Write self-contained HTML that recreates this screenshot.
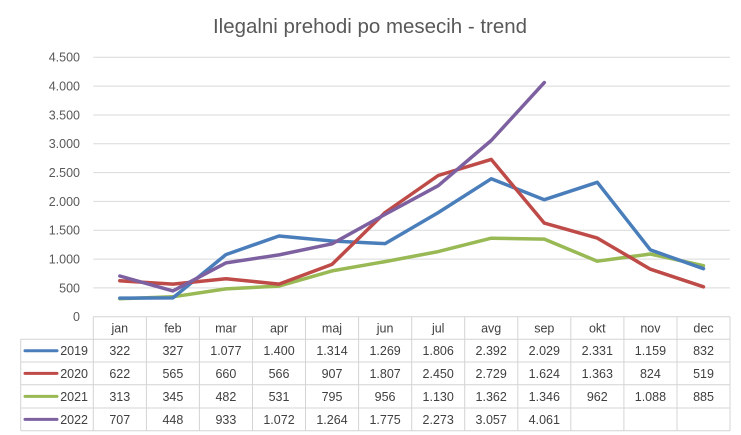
<!DOCTYPE html>
<html><head><meta charset="utf-8"><style>
html,body{margin:0;padding:0;background:#fff;}
svg{display:block;}
text{font-family:"Liberation Sans",Arial,sans-serif;}
</style></head><body>
<svg width="741" height="435" viewBox="0 0 741 435" xmlns="http://www.w3.org/2000/svg">
<rect width="741" height="435" fill="#fff"/>
<text x="370" y="33" font-size="20.5" fill="#595959" text-anchor="middle" textLength="314" lengthAdjust="spacingAndGlyphs">Ilegalni prehodi po mesecih - trend</text>
<g stroke="#d9d9d9" stroke-width="1">
<line x1="93.3" y1="287.9" x2="730" y2="287.9"/>
<line x1="93.3" y1="259.1" x2="730" y2="259.1"/>
<line x1="93.3" y1="230.2" x2="730" y2="230.2"/>
<line x1="93.3" y1="201.4" x2="730" y2="201.4"/>
<line x1="93.3" y1="172.6" x2="730" y2="172.6"/>
<line x1="93.3" y1="143.8" x2="730" y2="143.8"/>
<line x1="93.3" y1="115.0" x2="730" y2="115.0"/>
<line x1="93.3" y1="86.1" x2="730" y2="86.1"/>
<line x1="93.3" y1="57.3" x2="730" y2="57.3"/>
</g>
<g font-size="12.5" fill="#595959" text-anchor="end">
<text x="80" y="321">0</text>
<text x="80" y="292.3">500</text>
<text x="80" y="263.5">1.000</text>
<text x="80" y="234.6">1.500</text>
<text x="80" y="205.8">2.000</text>
<text x="80" y="177">2.500</text>
<text x="80" y="148.2">3.000</text>
<text x="80" y="119.4">3.500</text>
<text x="80" y="90.5">4.000</text>
<text x="80" y="61.7">4.500</text>
</g>
<!-- table -->
<g stroke="#d4d4d4" stroke-width="1" fill="none">
<line x1="93.3" y1="316.7" x2="730" y2="316.7"/>
<line x1="20.7" y1="339.3" x2="730" y2="339.3"/>
<line x1="20.7" y1="362" x2="730" y2="362"/>
<line x1="20.7" y1="384.7" x2="730" y2="384.7"/>
<line x1="20.7" y1="408" x2="730" y2="408"/>
<line x1="20.7" y1="430.7" x2="730" y2="430.7"/>
<line x1="20.7" y1="339.3" x2="20.7" y2="430.7"/>
<line x1="93.3" y1="316.7" x2="93.3" y2="430.7"/>
<line x1="146.4" y1="316.7" x2="146.4" y2="430.7"/>
<line x1="199.4" y1="316.7" x2="199.4" y2="430.7"/>
<line x1="252.5" y1="316.7" x2="252.5" y2="430.7"/>
<line x1="305.5" y1="316.7" x2="305.5" y2="430.7"/>
<line x1="358.6" y1="316.7" x2="358.6" y2="430.7"/>
<line x1="411.7" y1="316.7" x2="411.7" y2="430.7"/>
<line x1="464.7" y1="316.7" x2="464.7" y2="430.7"/>
<line x1="517.8" y1="316.7" x2="517.8" y2="430.7"/>
<line x1="570.8" y1="316.7" x2="570.8" y2="430.7"/>
<line x1="623.9" y1="316.7" x2="623.9" y2="430.7"/>
<line x1="677" y1="316.7" x2="677" y2="430.7"/>
<line x1="730" y1="316.7" x2="730" y2="430.7"/>
</g>
<g font-size="12.5" fill="#404040" text-anchor="middle">
<text x="119.8" y="332.3">jan</text><text x="172.9" y="332.3">feb</text><text x="225.9" y="332.3">mar</text><text x="279" y="332.3">apr</text><text x="332" y="332.3">maj</text><text x="385.1" y="332.3">jun</text><text x="438.2" y="332.3">jul</text><text x="491.2" y="332.3">avg</text><text x="544.3" y="332.3">sep</text><text x="597.3" y="332.3">okt</text><text x="650.4" y="332.3">nov</text><text x="703.5" y="332.3">dec</text>

<text x="119.8" y="355.2">322</text><text x="172.9" y="355.2">327</text><text x="225.9" y="355.2">1.077</text><text x="279" y="355.2">1.400</text><text x="332" y="355.2">1.314</text><text x="385.1" y="355.2">1.269</text><text x="438.2" y="355.2">1.806</text><text x="491.2" y="355.2">2.392</text><text x="544.3" y="355.2">2.029</text><text x="597.3" y="355.2">2.331</text><text x="650.4" y="355.2">1.159</text><text x="703.5" y="355.2">832</text>

<text x="119.8" y="377.9">622</text><text x="172.9" y="377.9">565</text><text x="225.9" y="377.9">660</text><text x="279" y="377.9">566</text><text x="332" y="377.9">907</text><text x="385.1" y="377.9">1.807</text><text x="438.2" y="377.9">2.450</text><text x="491.2" y="377.9">2.729</text><text x="544.3" y="377.9">1.624</text><text x="597.3" y="377.9">1.363</text><text x="650.4" y="377.9">824</text><text x="703.5" y="377.9">519</text>

<text x="119.8" y="400.9">313</text><text x="172.9" y="400.9">345</text><text x="225.9" y="400.9">482</text><text x="279" y="400.9">531</text><text x="332" y="400.9">795</text><text x="385.1" y="400.9">956</text><text x="438.2" y="400.9">1.130</text><text x="491.2" y="400.9">1.362</text><text x="544.3" y="400.9">1.346</text><text x="597.3" y="400.9">962</text><text x="650.4" y="400.9">1.088</text><text x="703.5" y="400.9">885</text>

<text x="119.8" y="423.9">707</text><text x="172.9" y="423.9">448</text><text x="225.9" y="423.9">933</text><text x="279" y="423.9">1.072</text><text x="332" y="423.9">1.264</text><text x="385.1" y="423.9">1.775</text><text x="438.2" y="423.9">2.273</text><text x="491.2" y="423.9">3.057</text><text x="544.3" y="423.9">4.061</text>
</g>
<g font-size="12.5" fill="#404040" text-anchor="end">
<text x="88" y="355.2">2019</text>
<text x="88" y="377.9">2020</text>
<text x="88" y="400.9">2021</text>
<text x="88" y="423.9">2022</text>
</g>
<g stroke-width="3" stroke-linecap="round">
<line x1="25" y1="350.7" x2="57" y2="350.7" stroke="#4A7EBB"/>
<line x1="25" y1="373.4" x2="57" y2="373.4" stroke="#BE4B48"/>
<line x1="25" y1="396.4" x2="57" y2="396.4" stroke="#98B954"/>
<line x1="25" y1="419.4" x2="57" y2="419.4" stroke="#7D60A0"/>
</g>
<!-- series -->
<g fill="none" stroke-width="3.5" stroke-linejoin="round" stroke-linecap="round">
<polyline stroke="#98B954" points="119.8,298.7 172.9,296.8 225.9,288.9 279,286.1 332,270.9 385.1,261.6 438.2,251.6 491.2,238.2 544.3,239.1 597.3,261.2 650.4,254 703.5,265.7"/>
<polyline stroke="#4A7EBB" points="119.8,298.1 172.9,297.9 225.9,254.6 279,236 332,241 385.1,243.6 438.2,212.6 491.2,178.8 544.3,199.7 597.3,182.3 650.4,249.9 703.5,268.7"/>
<polyline stroke="#BE4B48" points="119.8,280.8 172.9,284.1 225.9,278.7 279,284.1 332,264.4 385.1,212.5 438.2,175.5 491.2,159.4 544.3,223.1 597.3,238.1 650.4,269.2 703.5,286.8"/>
<polyline stroke="#7D60A0" points="119.8,276 172.9,290.9 225.9,262.9 279,254.9 332,243.8 385.1,214.4 438.2,185.7 491.2,140.5 544.3,82.6"/>
</g>
</svg>
</body></html>
